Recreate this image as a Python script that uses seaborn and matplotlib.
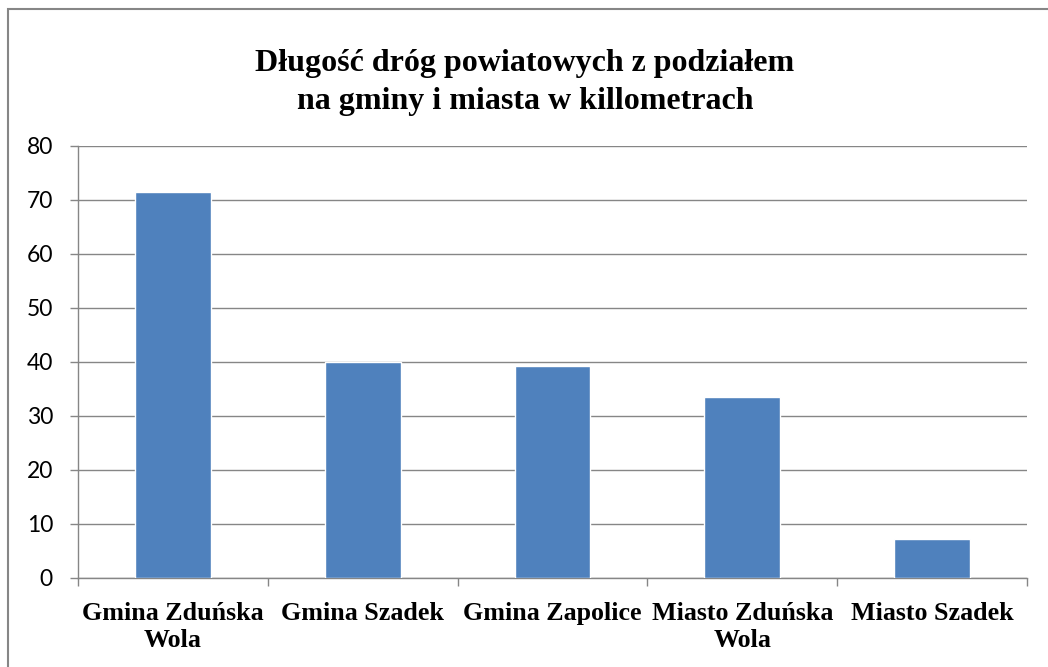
import matplotlib
matplotlib.use("Agg")
import matplotlib.pyplot as plt
import seaborn as sns
import pandas as pd
from matplotlib.patches import Rectangle

categories = ["Gmina Zduńska\nWola", "Gmina Szadek", "Gmina Zapolice", "Miasto Zduńska\nWola", "Miasto Szadek"]
values = [71.4, 40.0, 39.2, 33.5, 7.2]
yticks = [0, 10, 20, 30, 40, 50, 60, 70, 80]
title = "Długość dróg powiatowych z podziałem\nna gminy i miasta w killometrach"

sns.set_theme(style="white")
plt.rcParams['font.family'] = ['Liberation Serif', 'DejaVu Serif']
plt.rcParams['text.color'] = 'black'
plt.rcParams['xtick.color'] = 'black'
plt.rcParams['ytick.color'] = 'black'

df = pd.DataFrame({"cat": categories, "val": values})

fig = plt.figure(figsize=(10.48, 6.67), dpi=100)
ax = fig.add_axes([78/1048, 1-578/667, (1027-78)/1048, (578-146)/667])

sns.barplot(data=df, x="cat", y="val", color="#4F81BD", saturation=1, width=0.4, ax=ax, zorder=3)

gray = "#868686"
ax.set_ylim(0, 80)
ax.set_xlim(-0.5, len(categories) - 0.5)
ax.set_yticks(yticks)
ax.set_yticklabels([str(v) for v in yticks], family=['Lato', 'DejaVu Sans'], fontsize=16.5, color="black")
ax.yaxis.grid(True, color=gray, linewidth=1.0, zorder=0)
ax.set_axisbelow(True)
ax.set_xlabel("")
ax.set_ylabel("")

for s in ["top", "right"]:
    ax.spines[s].set_visible(False)
for s in ["left", "bottom"]:
    ax.spines[s].set_color(gray)
    ax.spines[s].set_linewidth(1.0)

ax.tick_params(axis="y", which="major", left=True, length=6, width=1.0, color=gray, pad=12, labelcolor="black")
ax.tick_params(axis="x", which="major", bottom=False, length=0, pad=17, labelcolor="black")
ax.set_xticks([i - 0.5 for i in range(len(categories) + 1)], minor=True)
ax.tick_params(axis="x", which="minor", bottom=True, length=6, width=1.0, color=gray)
for lbl in ax.get_xticklabels():
    lbl.set_fontweight("bold")
    lbl.set_fontsize(18.7)
    lbl.set_linespacing(1.25)
    lbl.set_verticalalignment("top")
    lbl.set_color("black")

fig.text(525/1048, 1-49/667, title, ha="center", va="top", fontsize=23, fontweight="bold",
         linespacing=1.4, color="black")

fig.patches.append(Rectangle((8/1048, -0.1), 1.2, 1 - 9/667 + 0.1, transform=fig.transFigure,
                             fill=False, edgecolor=gray, linewidth=1.5, zorder=0))

fig.savefig("out.png", dpi=100)
